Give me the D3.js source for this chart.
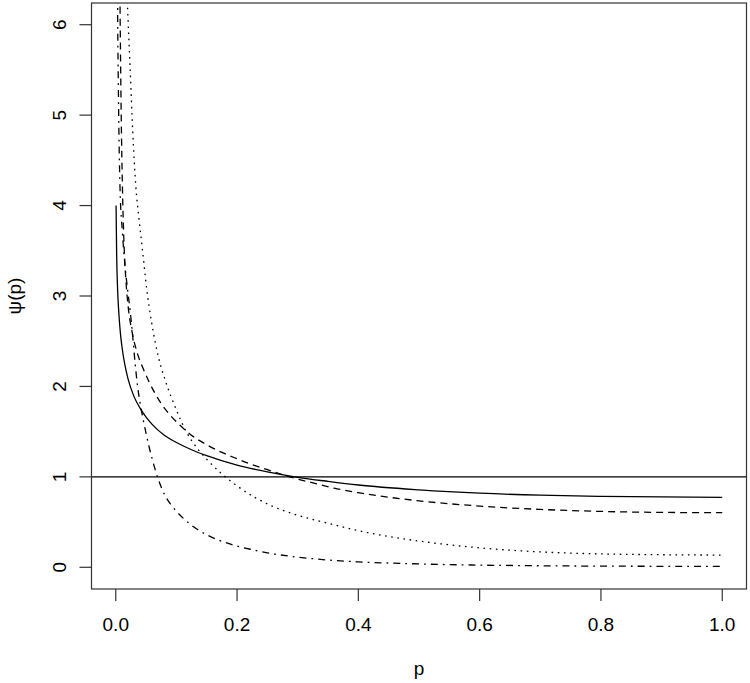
<!DOCTYPE html>
<html>
<head>
<meta charset="utf-8">
<script src="https://cdn.jsdelivr.net/npm/d3@7"></script>
<style>
  body { margin: 0; background: #fff; }
  svg { font-family: "Liberation Sans", Arial, sans-serif; }
</style>
</head>
<body>
<svg id="chart" width="750" height="683"></svg>
<script>
// tick labels
const xTicks = [0, 0.2, 0.4, 0.6, 0.8, 1.0];
const yTicks = [0, 1, 2, 3, 4, 5, 6];

// series (p, psi)
const solidP = [0.0005, 0.0015, 0.003, 0.005, 0.0075, 0.01, 0.015, 0.02, 0.03, 0.04, 0.05, 0.06, 0.08, 0.1, 0.125, 0.15, 0.2, 0.25, 0.3, 0.35, 0.4, 0.5, 0.6, 0.7, 0.8, 0.9, 1.0];
const solidY = [4.0, 3.45, 3.08, 2.82, 2.6, 2.45, 2.24, 2.09, 1.89, 1.76, 1.66, 1.58, 1.46, 1.38, 1.30, 1.235, 1.13, 1.055, 0.995, 0.95, 0.91, 0.857, 0.82, 0.797, 0.785, 0.778, 0.774];

const dashP = [0.0065, 0.0075, 0.009, 0.011, 0.0135, 0.017, 0.021, 0.027, 0.035, 0.045, 0.055, 0.065, 0.075, 0.09, 0.106, 0.128, 0.15, 0.175, 0.2, 0.225, 0.25, 0.287, 0.33, 0.36, 0.4, 0.45, 0.5, 0.6, 0.7, 0.8, 0.9, 1.0];
const dashY = [6.6, 5.9, 5.0, 4.2, 3.6, 3.15, 2.85, 2.6, 2.38, 2.2, 2.05, 1.92, 1.81, 1.68, 1.57, 1.445, 1.355, 1.27, 1.2, 1.135, 1.08, 1.0, 0.925, 0.875, 0.825, 0.775, 0.735, 0.677, 0.64, 0.618, 0.607, 0.604];

const dotP = [0.0175, 0.019, 0.0236, 0.028, 0.033, 0.0385, 0.0445, 0.051, 0.0593, 0.0702, 0.082, 0.1, 0.117, 0.135, 0.155, 0.177, 0.2, 0.23, 0.26, 0.293, 0.33, 0.36, 0.4, 0.45, 0.5, 0.6, 0.7, 0.8, 0.9, 1.0];
const dotY = [6.6, 6.28, 5.54, 4.82, 4.22, 3.84, 3.48, 3.08, 2.70, 2.33, 2.06, 1.74, 1.49, 1.31, 1.16, 1.02, 0.9, 0.77, 0.67, 0.59, 0.52, 0.47, 0.405, 0.34, 0.29, 0.215, 0.17, 0.148, 0.139, 0.135];

const dashDotP = [0.0028, 0.003, 0.0045, 0.007, 0.011, 0.015, 0.019, 0.024, 0.028, 0.032, 0.036, 0.04, 0.045, 0.05, 0.055, 0.06, 0.065, 0.07, 0.08, 0.09, 0.1, 0.115, 0.13, 0.15, 0.17, 0.2, 0.225, 0.25, 0.29, 0.33, 0.36, 0.4, 0.47, 0.5, 0.57, 0.6, 0.7, 0.8, 0.9, 1.0];
const dashDotY = [6.6, 6.3, 5.2, 4.2, 3.7, 3.35, 3.1, 2.82, 2.55, 2.25, 2.0, 1.82, 1.64, 1.48, 1.33, 1.2, 1.08, 0.975, 0.81, 0.70, 0.62, 0.52, 0.44, 0.36, 0.30, 0.235, 0.195, 0.16, 0.12, 0.092, 0.075, 0.06, 0.043, 0.037, 0.027, 0.024, 0.017, 0.013, 0.011, 0.01];

const svg = d3.select("#chart");
const box = {left: 91.5, right: 746.5, top: 3, bottom: 589};

const x = d3.scaleLinear().domain([-0.04, 1.04]).range([box.left, box.right]);
const y = d3.scaleLinear().domain([-0.24, 6.24]).range([box.bottom, box.top]);

svg.append("defs").append("clipPath").attr("id", "plotclip")
    .append("rect")
    .attr("x", box.left).attr("y", box.top)
    .attr("width", box.right - box.left).attr("height", box.bottom - box.top);

const plot = svg.append("g").attr("clip-path", "url(#plotclip)");

const line = d3.line()
    .x(d => x(d[0]))
    .y(d => y(d[1]))
    .curve(d3.curveMonotoneX);

const series = [
    {p: solidP, v: solidY, dash: null},
    {p: dashP, v: dashY, dash: "7,5"},
    {p: dotP, v: dotY, dash: "1.6,4.6"},
    {p: dashDotP, v: dashDotY, dash: "1.8,5,7,5"}
];

series.forEach(s => {
    plot.append("path")
        .datum(s.p.map((p, i) => [p, s.v[i]]))
        .attr("d", line)
        .attr("fill", "none")
        .attr("stroke", "#000")
        .attr("stroke-width", 1.3)
        .attr("stroke-dasharray", s.dash);
});

// reference line at psi = 1
plot.append("line")
    .attr("x1", box.left).attr("x2", box.right)
    .attr("y1", y(1)).attr("y2", y(1))
    .attr("stroke", "#000").attr("stroke-width", 1.3);

// box
svg.append("rect")
    .attr("x", box.left).attr("y", box.top)
    .attr("width", box.right - box.left).attr("height", box.bottom - box.top)
    .attr("fill", "none").attr("stroke", "#333").attr("stroke-width", 1.2);

// x axis
svg.selectAll(".xtick").data(xTicks).enter().append("line")
    .attr("x1", d => x(d)).attr("x2", d => x(d))
    .attr("y1", box.bottom).attr("y2", box.bottom + 12)
    .attr("stroke", "#333").attr("stroke-width", 1.2);

svg.selectAll(".xlab").data(xTicks).enter().append("text")
    .attr("x", d => x(d)).attr("y", 631)
    .attr("text-anchor", "middle")
    .attr("font-size", 19)
    .text(d => d3.format(".1f")(d));

// y axis
svg.selectAll(".ytick").data(yTicks).enter().append("line")
    .attr("x1", box.left - 12).attr("x2", box.left)
    .attr("y1", d => y(d)).attr("y2", d => y(d))
    .attr("stroke", "#333").attr("stroke-width", 1.2);

svg.selectAll(".ylab").data(yTicks).enter().append("text")
    .attr("transform", d => `translate(66,${y(d)}) rotate(-90)`)
    .attr("text-anchor", "middle")
    .attr("font-size", 19)
    .text(d => d);

// axis titles
svg.append("text")
    .attr("x", (box.left + box.right) / 2).attr("y", 675)
    .attr("text-anchor", "middle")
    .attr("font-size", 19)
    .text("p");

svg.append("text")
    .attr("transform", `translate(21,${(box.top + box.bottom) / 2}) rotate(-90)`)
    .attr("text-anchor", "middle")
    .attr("font-size", 19)
    .text("ψ(p)");
</script>
</body>
</html>
